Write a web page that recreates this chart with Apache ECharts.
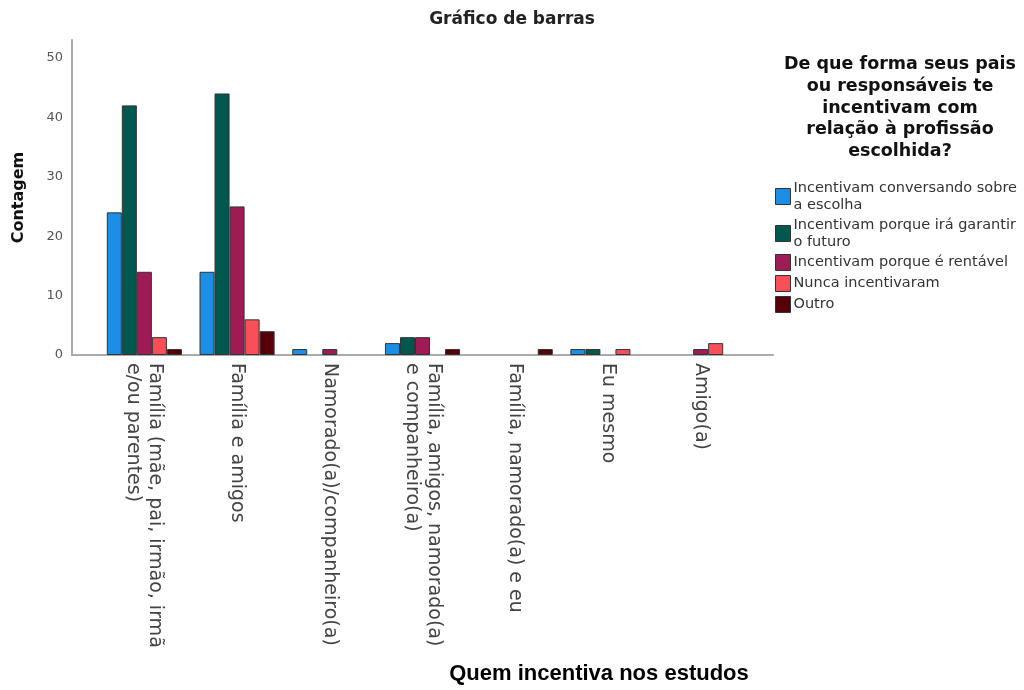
<!DOCTYPE html>
<html>
<head>
<meta charset="utf-8">
<title>Gráfico de barras</title>
<script src="https://cdn.jsdelivr.net/npm/echarts@6/dist/echarts.min.js"></script>
<style>
  html, body { margin: 0; padding: 0; background: #fff; }
  #chart { width: 1024px; height: 690px; }
</style>
</head>
<body>
<div id="chart"></div>
<script>
// categorias (eixo x)
const categories = [
  'Família (mãe, pai, irmão, irmã\ne/ou parentes)',
  'Família e amigos',
  'Namorado(a)/companheiro(a)',
  'Família, amigos, namorado(a)\ne companheiro(a)',
  'Família, namorado(a) e eu',
  'Eu mesmo',
  'Amigo(a)'
];

// séries (contagem por categoria)
const seriesNames = [
  'Incentivam conversando sobre\na escolha',
  'Incentivam porque irá garantir\no futuro',
  'Incentivam porque é rentável',
  'Nunca incentivaram',
  'Outro'
];
const conversando = [24, 14, 1, 2, 0, 1, 0];
const garantirFuturo = [42, 44, 0, 3, 0, 1, 0];
const rentavel = [14, 25, 1, 3, 0, 0, 1];
const nuncaIncentivaram = [3, 6, 0, 0, 0, 1, 2];
const outro = [1, 4, 0, 1, 1, 0, 0];

const yTicks = [0, 10, 20, 30, 40, 50];

const seriesData = [conversando, garantirFuturo, rentavel, nuncaIncentivaram, outro];
const colors = ['#1B8FE6', '#00584F', '#9E1B56', '#FB4F57', '#56000A'];

const FONT = '"DejaVu Sans", "Liberation Sans", sans-serif';

const chart = echarts.init(document.getElementById('chart'));

const option = {
  animation: false,
  backgroundColor: '#fff',
  title: [
    {
      text: 'Gráfico de barras',
      left: 512,
      top: 11,
      padding: 0,
      textAlign: 'center',
      textStyle: { fontFamily: FONT, fontSize: 17, fontWeight: 'bold', color: '#222' }
    },
    {
      text: 'De que forma seus pais\nou responsáveis te\nincentivam com\nrelação à profissão\nescolhida?',
      left: 900,
      top: 54,
      padding: 0,
      textAlign: 'center',
      textStyle: { fontFamily: FONT, fontSize: 17.5, lineHeight: 21.7, fontWeight: 'bold', color: '#111' }
    },
    {
      text: 'Quem incentiva nos estudos',
      left: 599,
      top: 663,
      padding: 0,
      textAlign: 'center',
      textStyle: { fontFamily: '"Liberation Sans", Arial, sans-serif', fontSize: 22, fontWeight: 'bold', color: '#000' }
    }
  ],
  legend: {
    orient: 'vertical',
    left: 775,
    top: 180,
    padding: 0,
    itemWidth: 15,
    itemHeight: 16,
    itemGap: 4,
    icon: 'rect',
    data: seriesNames,
    textStyle: { fontFamily: FONT, fontSize: 14.5, lineHeight: 16.5, color: '#333', padding: [0, 0, 0, -2] },
    itemStyle: { borderColor: '#333', borderWidth: 1 }
  },
  grid: [
    // barras
    { left: 98, width: 649, top: 40, bottom: 335 },
    // moldura dos eixos
    { left: 72, width: 701, top: 40, bottom: 335 }
  ],
  xAxis: [
    {
      type: 'category',
      gridIndex: 0,
      data: categories,
      axisLine: { show: false },
      axisTick: { show: false },
      axisLabel: {
        interval: 0,
        rotate: -90,
        margin: 8,
        padding: [8, 0, 0, 0],
        fontFamily: FONT,
        fontSize: 19,
        lineHeight: 22,
        color: '#444'
      }
    },
    {
      type: 'value',
      gridIndex: 1,
      min: 0,
      max: 1,
      axisLine: { show: true, lineStyle: { color: '#aaa', width: 2 } },
      axisTick: { show: false },
      axisLabel: { show: false },
      splitLine: { show: false }
    }
  ],
  yAxis: [
    {
      type: 'value',
      gridIndex: 0,
      min: yTicks[0],
      max: 53,
      show: false
    },
    {
      type: 'value',
      gridIndex: 1,
      min: yTicks[0],
      max: 53,
      interval: yTicks[1] - yTicks[0],
      name: 'Contagem',
      nameLocation: 'middle',
      nameGap: 45,
      nameTextStyle: { fontFamily: FONT, fontSize: 16, fontWeight: 'bold', color: '#111' },
      axisLine: { show: true, lineStyle: { color: '#aaa', width: 2 } },
      axisTick: { show: false },
      splitLine: { show: false },
      axisLabel: {
        showMaxLabel: false,
        margin: 9,
        fontFamily: FONT,
        fontSize: 13,
        color: '#555'
      }
    }
  ],
  series: seriesNames.map((name, i) => ({
    name,
    type: 'bar',
    xAxisIndex: 0,
    yAxisIndex: 0,
    barGap: '0%',
    barCategoryGap: '19%',
    data: seriesData[i].map((v) => (v === 0 ? null : v)),
    itemStyle: { color: colors[i], borderColor: '#333', borderWidth: 1 }
  }))
};

chart.setOption(option);
</script>
</body>
</html>
